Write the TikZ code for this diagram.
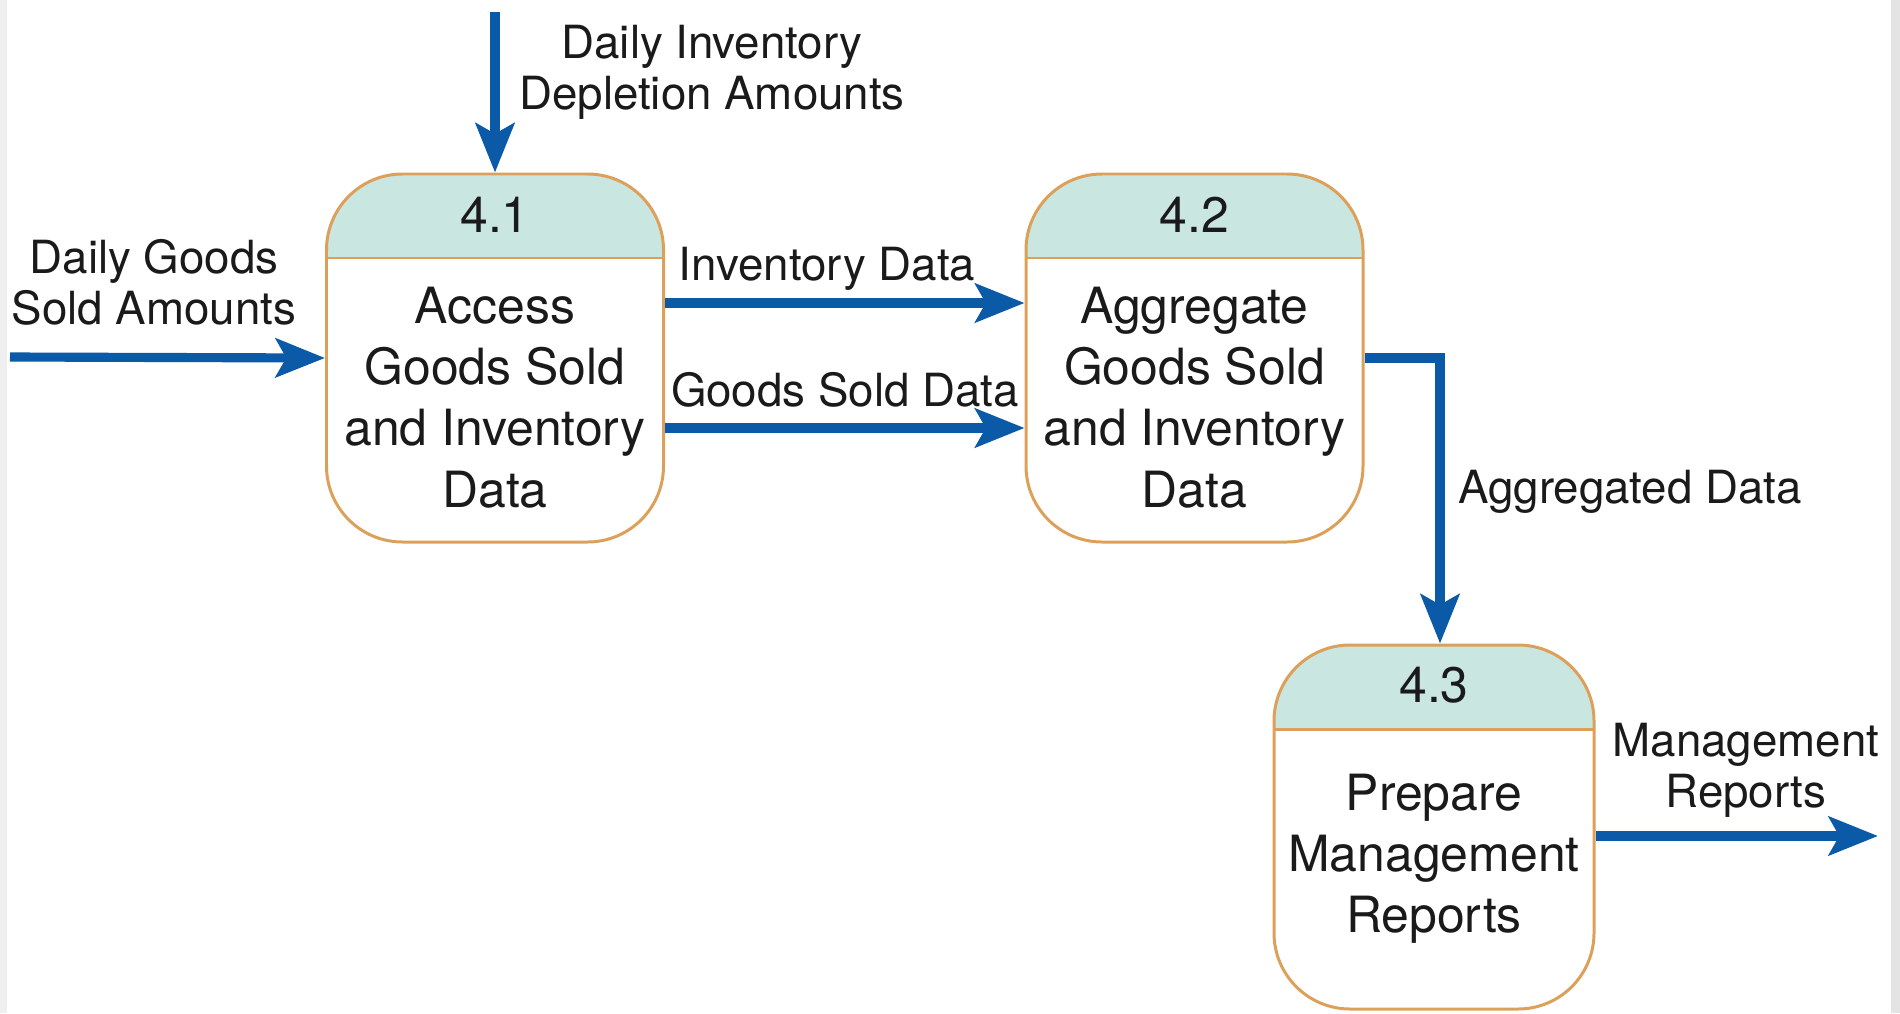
\documentclass[tikz,border=0pt]{standalone}
\usepackage{fontspec}
\setmainfont{TeX Gyre Heros}
\usetikzlibrary{positioning, arrows.meta}

\definecolor{flowblue}{HTML}{0A5AA8}
\definecolor{prochead}{HTML}{C9E6E0}
\definecolor{procborder}{HTML}{DDA05A}
\definecolor{inkblack}{HTML}{1A1A1A}
\definecolor{edgegray}{HTML}{E4E4E4}

\begin{document}
\begin{tikzpicture}[
  process/.style={draw=procborder, line width=0.85pt, rounded corners=0.76cm,
    minimum width=3.37cm, minimum height=3.68cm, inner sep=0pt,
    path picture={
      \fill[prochead, sharp corners] ([yshift=-0.84cm]path picture bounding box.north west)
        rectangle (path picture bounding box.north east);
      \draw[procborder, line width=0.85pt, sharp corners]
        ([yshift=-0.84cm]path picture bounding box.north west) --
        ([yshift=-0.84cm]path picture bounding box.north east);}},
  procnum/.style={font=\fontsize{14.2}{17}\selectfont, text=inkblack, inner sep=0pt},
  proctext/.style={font=\fontsize{14.2}{17.4}\selectfont, text=inkblack,
    align=center, inner sep=0pt},
  flow/.style={draw=flowblue, line width=2.6pt,
    -{Stealth[length=14pt, width=11pt, inset=3pt]}},
  flowlabel/.style={font=\fontsize{13}{14.5}\selectfont, text=inkblack,
    align=center, inner sep=0pt}
]

% Page and edges
\useasboundingbox (0,0) rectangle (19,-10.13);
\fill[white] (0,0) rectangle (19,-10.13);
\fill[edgegray!60] (0,0) rectangle (0.07,-10.13);
\fill[edgegray] (18.91,0) rectangle (19,-10.13);

% Process 4.1
\node[process] (p1) at (4.95,-3.58) {};
\node[procnum] (n1) at ([yshift=-0.42cm]p1.north) {4.1};
\node[proctext] (t1) at ([yshift=-2.25cm]p1.north) {Access\\Goods Sold\\and Inventory\\Data};

% Process 4.2
\node[process] (p2) at (11.945,-3.58) {};
\node[procnum] (n2) at ([yshift=-0.42cm]p2.north) {4.2};
\node[proctext] (t2) at ([yshift=-2.25cm]p2.north) {Aggregate\\Goods Sold\\and Inventory\\Data};

% Process 4.3
\node[process, minimum width=3.2cm, minimum height=3.64cm] (p3) at (14.34,-8.27) {};
\node[procnum] (n3) at ([yshift=-0.42cm]p3.north) {4.3};
\node[proctext] (t3) at ([yshift=-2.15cm]p3.north) {Prepare\\Management\\Reports};

% Free ends
\coordinate (inTop) at (4.95,-0.12);
\coordinate (inLeft) at (0.10,-3.57);
\coordinate (outRight) at (18.78,-8.36);

% Data flows
\draw[flow] (inTop) -- (p1.north);
\draw[flow] (inLeft) -- (p1.west);
\draw[flow] ([yshift=0.55cm]p1.east) -- ([yshift=0.55cm]p2.west);
\draw[flow] ([yshift=-0.70cm]p1.east) -- ([yshift=-0.70cm]p2.west);
\draw[flow] (p2.east) -| ([xshift=0.06cm]p3.north);
\draw[flow] ([yshift=-0.09cm]p3.east) -- (outRight);

% Flow labels
\node[flowlabel] (l1) at (7.12,-0.72) {Daily Inventory\\Depletion Amounts};
\node[flowlabel] (l2) at (1.54,-2.82) {Daily Goods\\Sold Amounts};
\node[flowlabel] (l3) at (8.27,-2.69) {Inventory Data};
\node[flowlabel] (l4) at (8.45,-3.90) {Goods Sold Data};
\node[flowlabel] (l5) at (16.30,-4.92) {Aggregated Data};
\node[flowlabel] (l6) at (17.46,-7.70) {Management\\Reports};

\end{tikzpicture}
\end{document}
